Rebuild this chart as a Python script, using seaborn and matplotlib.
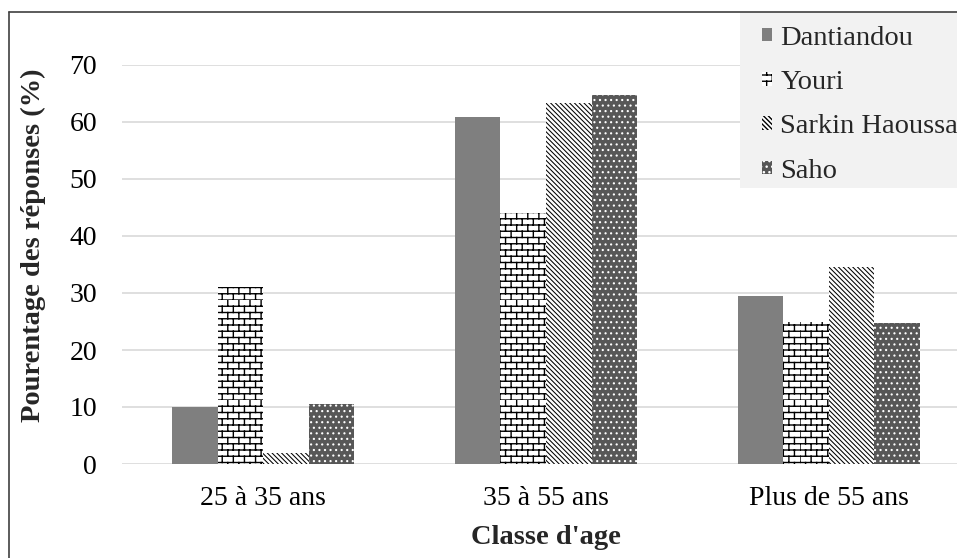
import numpy as np
import pandas as pd
import seaborn as sns
import matplotlib
matplotlib.use("Agg")
import matplotlib.pyplot as plt
from matplotlib import hatch as mhatch
from matplotlib.path import Path
from matplotlib.patches import Patch, Rectangle
from matplotlib.lines import Line2D

# ---- data ----
classes = ["25 à 35 ans", "35 à 55 ans", "Plus de 55 ans"]
sites = ["Dantiandou", "Youri", "Sarkin Haoussa", "Saho"]
dantiandou = [10.0, 60.8, 29.4]
youri = [31.0, 44.0, 25.0]
sarkin_haoussa = [2.0, 63.3, 34.6]
saho = [10.6, 64.8, 24.7]
yticks = [0, 10, 20, 30, 40, 50, 60, 70]


# Brick-wall hatch, bound to the 'O' hatch character
class BrickHatch(mhatch.HatchPatternBase):
    rows = 16
    cols = 9

    def __init__(self, hatch, density):
        n = hatch.count("O")
        if n > 0:
            self.num_vertices = 2 * self.rows + 2 * self.rows * self.cols
        else:
            self.num_vertices = 0

    def set_vertices_and_codes(self, vertices, codes):
        v = []
        for i in range(self.rows):
            y = i / self.rows
            v += [(0.0, y), (1.0, y)]
        for i in range(self.rows):
            y0 = i / self.rows
            y1 = (i + 1) / self.rows
            shift = 0.5 * (i % 2)
            for k in range(self.cols):
                x = ((k + shift) / self.cols) % 1.0
                v += [(x, y0), (x, y1)]
        vertices[:] = np.array(v)
        codes[0::2] = Path.MOVETO
        codes[1::2] = Path.LINETO


mhatch._hatch_types = [h for h in mhatch._hatch_types
                       if h is not mhatch.LargeCircles] + [BrickHatch]

df = pd.DataFrame({
    "classe": np.repeat(classes, len(sites)),
    "site": sites * len(classes),
    "pct": np.ravel(np.column_stack([dantiandou, youri, sarkin_haoussa, saho])),
})

sns.set_theme(style="white")
plt.rcParams["font.family"] = ["Liberation Serif", "DejaVu Serif"]
plt.rcParams["hatch.linewidth"] = 1.0

face = ["#7f7f7f", "white", "white", "#575757"]
hatch_edge = ["#7f7f7f", "black", "black", "white"]
hatches = [None, "O", "\\" * 7, "..."]
hatch_lw = [1.0, 1.0, 0.75, 0.8]


def style_patch(p, fc, ec, h, lw):
    p.set_facecolor(fc)
    p.set_edgecolor(ec)
    p.set_linewidth(0)
    p.set_hatch(h)
    if hasattr(p, "set_hatch_linewidth"):
        p.set_hatch_linewidth(lw)


fig = plt.figure(figsize=(9.57, 5.58), dpi=100)
ax = fig.add_axes([122 / 957, 94 / 558, (970 - 122) / 957, (464 - 65) / 558])

sns.barplot(data=df, x="classe", y="pct", hue="site", order=classes,
            hue_order=sites, palette=face, saturation=1, width=0.645,
            legend=False, ax=ax)

for cont, fc, ec, h, lw in zip(ax.containers, face, hatch_edge, hatches, hatch_lw):
    for bar in cont:
        style_patch(bar, fc, ec, h, lw)

ax.set_ylim(0, 70)
ax.set_yticks(yticks)
ax.set_yticklabels([str(t) for t in yticks])
ax.grid(axis="y", color="#d9d9d9", linewidth=1.2)
ax.set_axisbelow(True)
for s in ax.spines.values():
    s.set_visible(False)
ax.tick_params(axis="both", length=0, labelsize=20, colors="black")
ax.tick_params(axis="x", pad=16)
ax.tick_params(axis="y", pad=18)

ax.set_xlabel("Classe d'age", fontsize=20.5, fontweight="bold", labelpad=10)
ax.set_ylabel("")
fig.text(33 / 957, 1 - 245 / 558, "Pourentage des réponses (%)",
         rotation=90, ha="center", va="center",
         fontsize=20.5, fontweight="bold")

# legend panel
fig.add_artist(Rectangle((740 / 957, 1 - 188 / 558), 1 - 740 / 957, (188 - 12) / 558,
                         transform=fig.transFigure, facecolor="#f2f2f2",
                         edgecolor="none", zorder=3))
handles = []
for fc, ec, h, lw in zip(face, hatch_edge, hatches, hatch_lw):
    p = Patch()
    style_patch(p, fc, ec, h, lw)
    handles.append(p)
leg = fig.legend(handles, sites, loc="upper left",
                 bbox_to_anchor=(756 / 957, 1 - 20 / 558),
                 bbox_transform=fig.transFigure,
                 borderaxespad=0, frameon=False,
                 fontsize=20.5, handlelength=0.36, handleheight=0.36,
                 handletextpad=0.3, labelspacing=0.68, borderpad=0.2)
leg.set_zorder(4)

# outer border (top and left)
fig.add_artist(Line2D([9 / 957, 9 / 957], [0, 1 - 12 / 558], color="#404040",
                      linewidth=1.2, transform=fig.transFigure, zorder=10))
fig.add_artist(Line2D([9 / 957, 1], [1 - 12 / 558, 1 - 12 / 558], color="#404040",
                      linewidth=1.2, transform=fig.transFigure, zorder=10))

fig.savefig("out.png", dpi=100)
